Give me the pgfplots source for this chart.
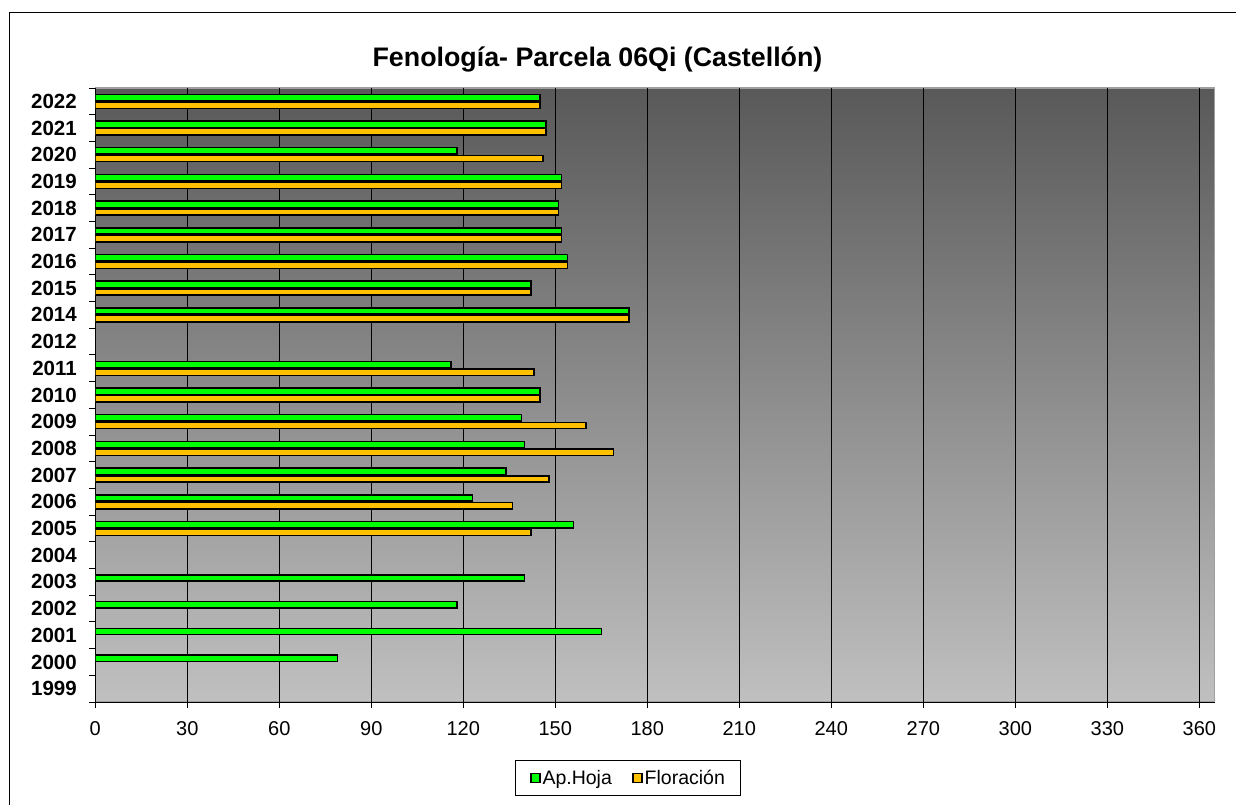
\documentclass[border=0pt]{standalone}
\usepackage{pgfplots}
\pgfplotsset{compat=1.18}
\usepackage{pgfplotstable}
\usepackage{fontspec}
\setmainfont{Liberation Sans}

\definecolor{hojacol}{HTML}{00FF00}
\definecolor{florcol}{HTML}{FFC000}
\definecolor{bgtop}{HTML}{595959}
\definecolor{bgbot}{HTML}{C0C0C0}

% y = category index (1999 -> 0, ..., 2012 -> 13, 2014 -> 14, ..., 2022 -> 22)
\pgfplotstableread{
y v
1 79
2 165
3 118
4 140
6 156
7 123
8 134
9 140
10 139
11 145
12 116
14 174
15 142
16 154
17 152
18 151
19 152
20 118
21 147
22 145
}\tabHoja

\pgfplotstableread{
y v
6 142
7 136
8 148
9 169
10 160
11 145
12 143
14 174
15 142
16 154
17 152
18 151
19 152
20 146
21 147
22 145
}\tabFlor

\begin{document}
\begin{tikzpicture}[x=1bp,y=1bp]
\useasboundingbox (0,0) rectangle (1236,-805);
\draw[black, line width=1bp] (9.3,-12.3) rectangle (1260,-830);
\node[font=\bfseries\fontsize{26.8bp}{30bp}\selectfont] at (597.5,-60)
  {Fenología- Parcela 06Qi (Castellón)};
\begin{axis}[
  at={(95.3bp,-88bp)}, anchor=north west,
  width=1119.3bp, height=614bp, scale only axis,
  xmin=0, xmax=365, ymin=-0.5, ymax=22.5,
  axis background/.style={top color=bgtop, bottom color=bgbot, draw=gray!75, line width=1.5bp},
  axis x line*=bottom, axis y line*=left,
  axis line style={black, line width=1bp},
  xtick={0,30,...,360},
  xmajorgrids, major grid style={black, line width=0.9bp},
  ytick={0,...,22},
  yticklabels={1999,2000,2001,2002,2003,2004,2005,2006,2007,2008,2009,2010,2011,2012,2014,2015,2016,2017,2018,2019,2020,2021,2022},
  minor ytick={-0.5,0.5,...,22.5},
  major y tick style={draw=none},
  minor y tick style={black, line width=1bp},
  major x tick style={black, line width=1bp},
  tick align=outside,
  major tick length=6bp, minor tick length=6bp,
  /pgf/number format/assume math mode=true,
  xticklabel style={font=\fontsize{20bp}{24bp}\selectfont, yshift=-10bp},
  yticklabel style={font=\bfseries\fontsize{20.5bp}{24bp}\selectfont, xshift=-9bp},
  legend columns=2,
  legend style={at={(axis description cs:0.4762,-0.1238)}, anchor=center,
    draw=black, line width=1bp, fill=white,
    font=\fontsize{19.5bp}{23bp}\selectfont,
    inner xsep=14bp, inner ysep=8bp,
    /tikz/every even column/.append style={column sep=18bp}},
  legend image code/.code={\draw[#1, line width=1.8bp] (0bp,-4.5bp) rectangle (9bp,4.5bp);},
]
\addplot[xbar, bar width=6.3bp, bar shift=3.85bp, fill=hojacol, draw=black, line width=1.5bp]
  table[x=v, y=y]{\tabHoja};
\addlegendentry{Ap.Hoja}
\addplot[xbar, bar width=6.3bp, bar shift=-3.85bp, fill=florcol, draw=black, line width=1.5bp]
  table[x=v, y=y]{\tabFlor};
\addlegendentry{Floración}
\end{axis}
\end{tikzpicture}
\end{document}
